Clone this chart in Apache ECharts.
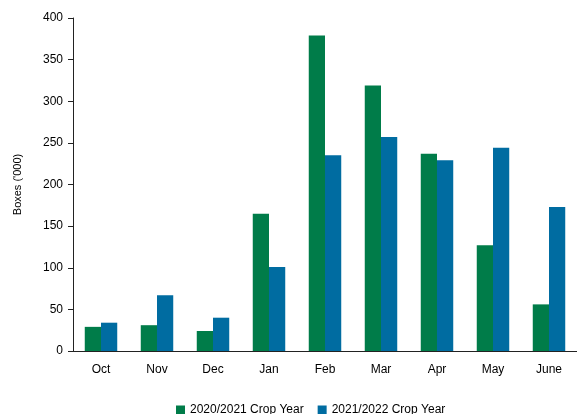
<!DOCTYPE html>
<html lang="en">
<head>
  <meta charset="UTF-8">
  <title>Boxes by month</title>
  <style>
    html, body { margin: 0; padding: 0; background: #fff; }
    #chart { width: 577px; height: 414px; }
  </style>
</head>
<body>
  <div id="chart"></div>
  <script src="https://cdn.jsdelivr.net/npm/echarts@6/dist/echarts.min.js"></script>
  <script>
    // months on the x axis
    let months = ['Oct', 'Nov', 'Dec', 'Jan', 'Feb', 'Mar', 'Apr', 'May', 'June']
    // boxes ('000)
    let year2021 = [29, 31, 24, 165, 379, 319, 237, 127, 56]
    let year2022 = [34, 67, 40, 101, 235, 257, 229, 244, 173]
    let seriesNames = ['2020/2021 Crop Year', '2021/2022 Crop Year']

    let chart = echarts.init(document.getElementById('chart'))
    let font = 'Liberation Sans'
    chart.setOption({
      animation: false,
      textStyle: { fontFamily: font },
      grid: { left: 73, top: 18, width: 512, height: 333 },
      legend: {
        bottom: -7,
        left: 171,
        itemWidth: 9,
        itemHeight: 9,
        itemGap: 14,
        icon: 'rect',
        textStyle: { fontSize: 12, color: '#000', fontFamily: font }
      },
      xAxis: {
        type: 'category',
        data: months,
        axisLine: { lineStyle: { color: '#222', width: 1 } },
        axisTick: { length: 5, lineStyle: { color: '#222' } },
        axisLabel: { color: '#000', fontSize: 12, margin: 13 }
      },
      yAxis: {
        type: 'value',
        min: 0,
        max: 400,
        interval: 50,
        name: "Boxes ('000)",
        nameLocation: 'middle',
        nameGap: 50,
        nameTextStyle: { fontSize: 11, color: '#000' },
        splitLine: { show: false },
        axisLine: { show: true, lineStyle: { color: '#222' } },
        axisTick: { show: true, length: 5, lineStyle: { color: '#222' } },
        axisLabel: { color: '#000', fontSize: 12, margin: 10 }
      },
      series: [
        {
          name: seriesNames[0],
          type: 'bar',
          data: year2021,
          barGap: '0%',
          barCategoryGap: '42%',
          itemStyle: { color: '#007c49' }
        },
        {
          name: seriesNames[1],
          type: 'bar',
          data: year2022,
          barGap: '0%',
          barCategoryGap: '42%',
          itemStyle: { color: '#006ca1' }
        }
      ]
    })
  </script>
</body>
</html>
